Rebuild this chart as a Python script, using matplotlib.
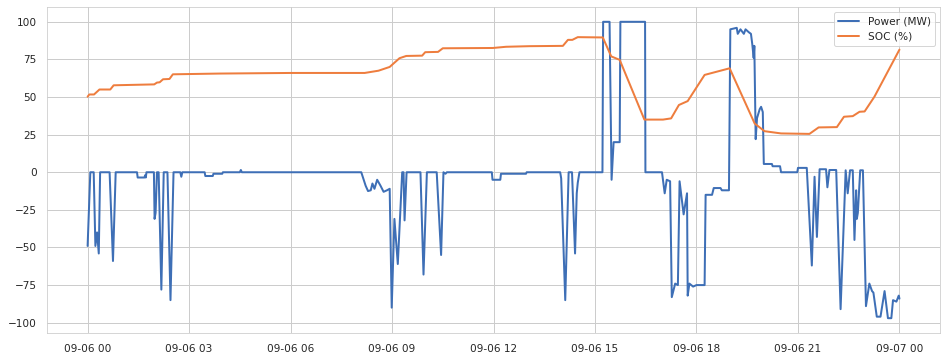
import numpy as np
import pandas as pd
import matplotlib
matplotlib.use("Agg")
import matplotlib.pyplot as plt
import matplotlib.dates as mdates
import seaborn as sns

# hours after midnight, power in MW
power_hours = [0, 0.08, 0.18, 0.23, 0.28, 0.33, 0.37, 0.65, 0.75, 0.83,
               1.46, 1.48, 1.68, 1.70, 1.72, 1.74, 1.96, 1.98, 2.01, 2.05,
               2.10, 2.18, 2.25, 2.36, 2.45, 2.54, 2.74, 2.77, 2.80, 3.46,
               3.48, 3.70, 3.72, 3.98, 4.00, 4.50, 4.53, 4.56, 8.09, 8.22,
               8.29, 8.37, 8.42, 8.48, 8.56, 8.66, 8.75, 8.85, 8.93, 8.99,
               9.07, 9.17, 9.24, 9.30, 9.34, 9.37, 9.43, 9.84, 9.93, 10.03,
               10.32, 10.45, 10.52, 10.58, 10.62, 11.95, 11.97, 12.20, 12.22, 12.96,
               12.98, 13.97, 14.00, 14.12, 14.22, 14.32, 14.41, 14.46, 14.49, 14.54,
               15.22, 15.24, 15.43, 15.49, 15.55, 15.73, 15.75, 16.48, 16.49, 16.98,
               17.06, 17.12, 17.22, 17.27, 17.37, 17.45, 17.50, 17.62, 17.72, 17.74,
               17.79, 17.90, 18.00, 18.24, 18.27, 18.46, 18.51, 18.71, 18.75, 18.96,
               19.00, 19.19, 19.22, 19.30, 19.40, 19.45, 19.55, 19.61, 19.65, 19.69,
               19.71, 19.75, 19.79, 19.87, 19.91, 19.96, 19.99, 20.23, 20.25, 20.47,
               20.50, 20.98, 21.00, 21.26, 21.41, 21.49, 21.56, 21.64, 21.83, 21.87,
               21.93, 22.13, 22.26, 22.41, 22.47, 22.54, 22.62, 22.67, 22.72, 22.74,
               22.77, 22.84, 22.92, 23.01, 23.11, 23.19, 23.23, 23.33, 23.44, 23.56,
               23.66, 23.76, 23.81, 23.91, 23.98, 24.00]
power_mw = [-49, 0, 0, -49, -40, -54, 0, 0, -59, 0,
            0, -3.5, -3.5, -2, -3.5, 0, 0, -31, -27, 0,
            0, -78, 0, 0, -85, 0, 0, -3, 0, 0,
            -2.5, -2.5, -1, -1, 0, 0, 1.5, 0, 0, -9,
            -12.5, -12, -7.5, -11, -5, -9, -13, -12, -11, -90,
            -31, -61, -28, 0, 0, -32, 0, 0, -68, 0,
            0, -55, 0, -1, 0, 0, -5, -5, -1, -1,
            0, 0, -4, -85, 0, 0, -54, -14, -7, 0,
            0, 100, 100, -5, 20, 20, 100, 100, 0, 0,
            -14, -5, -6, -83, -74, -75, -6, -28, -14, -82,
            -74, -76, -75, -75, -15, -15, -10.5, -10.5, -12, -12,
            95, 96, 92, 95, 92, 95, 93, 92, 85, 76,
            84, 22, 36, 42, 43.5, 40, 5.5, 5.5, 4, 4,
            0, 0, 2.9, 2.9, -62, -3, -43, 2, 2, -10,
            1.5, 1.5, -91, 1.3, -14, 1.3, 1.3, -45, -12, -31,
            -27, 1.3, 1.3, -89, -74, -79, -80, -96, -96, -79,
            -97, -97, -85, -86, -82, -84]

# hours after midnight, state of charge in %
soc_hours = [0, 0.05, 0.19, 0.35, 0.67, 0.77, 1.97, 2.05, 2.13, 2.23,
             2.42, 2.52, 3.90, 6.00, 8.19, 8.60, 8.93, 9.22, 9.42, 9.89,
             9.98, 10.36, 10.50, 11.98, 12.37, 13.06, 14.05, 14.20, 14.33, 14.49,
             15.23, 15.48, 15.73, 16.46, 17.01, 17.25, 17.48, 17.74, 18.24, 18.98,
             19.72, 20.01, 20.50, 21.34, 21.61, 22.15, 22.36, 22.62, 22.82, 22.97,
             23.26, 24.00]
soc_pct = [50.2, 51.7, 51.7, 55, 55, 57.8, 58.4, 59.6, 59.8, 61.8,
           62, 65.1, 65.6, 66, 66, 67.5, 70, 75.8, 77.3, 77.5,
           79.8, 80, 82.4, 82.6, 83.4, 83.8, 84, 88, 88, 89.8,
           89.6, 77, 74.7, 35, 35, 35.8, 44.7, 47.3, 64.7, 69.1,
           32.4, 27.3, 25.8, 25.5, 29.8, 30, 36.9, 37.3, 40.2, 40.4,
           50.2, 81.5]

start = pd.Timestamp("2023-09-06 00:00")
power_t = start + pd.to_timedelta(power_hours, unit="h")
soc_t = start + pd.to_timedelta(soc_hours, unit="h")

sns.set_style("whitegrid")
plt.rcParams['font.family'] = ['DejaVu Sans']
plt.rcParams['font.size'] = 10.5

fig = plt.figure(figsize=(946 / 72, 360 / 72), dpi=72)
ax = fig.add_axes([0.0497, 0.075, 0.944, 0.9056])

ax.plot(power_t, power_mw, color="#3E6FB6", lw=2, label="Power (MW)")
ax.plot(soc_t, soc_pct, color="#EE7D3E", lw=2, label="SOC (%)")

ax.xaxis.set_major_locator(mdates.HourLocator(byhour=range(0, 24, 3)))
ax.xaxis.set_major_formatter(mdates.DateFormatter("%m-%d %H"))
ax.set_yticks([-100, -75, -50, -25, 0, 25, 50, 75, 100])
ax.tick_params(axis="both", labelsize=10.5, colors="#262626", pad=7)
ax.grid(True, color="#cccccc", lw=1)
for s in ax.spines.values():
    s.set_color("#cccccc")

ax.legend(loc="upper right", fontsize=10.5, frameon=True)

fig.savefig("out.png", dpi=72)
